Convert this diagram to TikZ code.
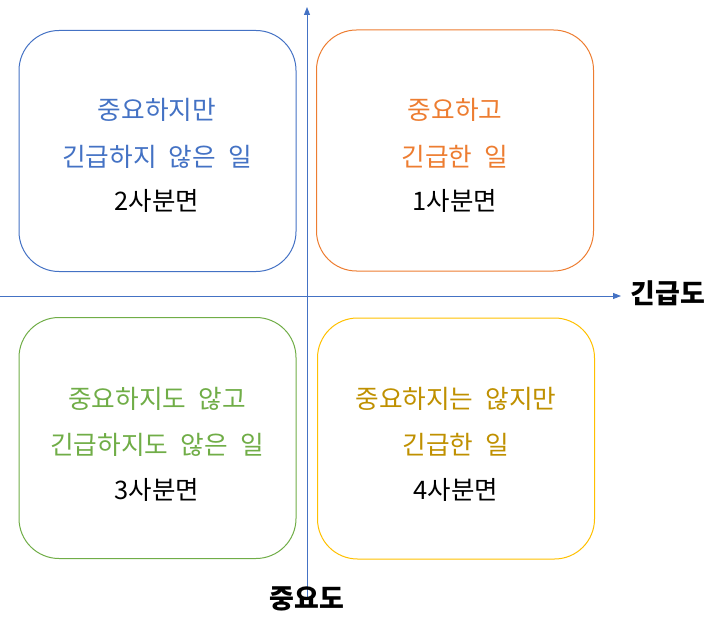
\documentclass[tikz,border=0pt]{standalone}
\usepackage{fontspec}
\newfontfamily\kr{Noto Sans CJK KR}
\newfontfamily\krw[WordSpace=2.1]{Noto Sans CJK KR}
\usetikzlibrary{arrows.meta}
\definecolor{qblue}{HTML}{4472C4}
\definecolor{qorange}{HTML}{ED7D31}
\definecolor{qgreen}{HTML}{70AD47}
\definecolor{qgold}{HTML}{FFC000}
\definecolor{qgoldtext}{HTML}{BF9000}
\begin{document}
\begin{tikzpicture}[x=1pt,y=-1pt,
  quad/.style={draw, line width=1pt, rounded corners=40pt, minimum width=277pt, minimum height=241pt, inner sep=0pt},
  qtext/.style={font=\krw\fontsize{25.7}{28}\selectfont},
  qnum/.style={font=\kr\fontsize{25.5}{28}\selectfont, text=black},
  axis/.style={draw=qblue, line width=0.9pt, -{Triangle[width=6pt,length=8pt]}},
  axlabel/.style={font=\kr\bfseries\fontsize{27}{30}\selectfont, text=black}]
\useasboundingbox (0,0) rectangle (720,631);
% axes
\coordinate (hs) at (0,296);
\coordinate (he) at (621,296);
\coordinate (vs) at (307,598);
\coordinate (ve) at (307,7);
\draw[axis] (hs) -- (he);
\draw[axis] (vs) -- (ve);
\node[axlabel, anchor=west] (lx) at (627,293) {긴급도};
\node[axlabel] (ly) at (307,599) {중요도};
% quadrants
\node[quad, draw=qblue] (q2) at (157.5,151) {};
\node[quad, draw=qorange] (q1) at (455,150.5) {};
\node[quad, draw=qgreen] (q3) at (157.5,438) {};
\node[quad, draw=qgold] (q4) at (456,438.5) {};
% texts
\node[qtext, text=qblue] (t2a) at (157,110) {중요하지만};
\node[qtext, text=qblue] (t2b) at (157,157) {긴급하지 않은 일};
\node[qnum] (n2) at (157,201) {2사분면};
\node[qtext, text=qorange] (t1a) at (455,110) {중요하고};
\node[qtext, text=qorange] (t1b) at (455,157) {긴급한 일};
\node[qnum] (n1) at (455,201) {1사분면};
\node[qtext, text=qgreen] (t3a) at (157,399) {중요하지도 않고};
\node[qtext, text=qgreen] (t3b) at (157,445) {긴급하지도 않은 일};
\node[qnum] (n3) at (157,490) {3사분면};
\node[qtext, text=qgoldtext] (t4a) at (456,399) {중요하지는 않지만};
\node[qtext, text=qgoldtext] (t4b) at (456,445) {긴급한 일};
\node[qnum] (n4) at (456,490) {4사분면};
\end{tikzpicture}
\end{document}
